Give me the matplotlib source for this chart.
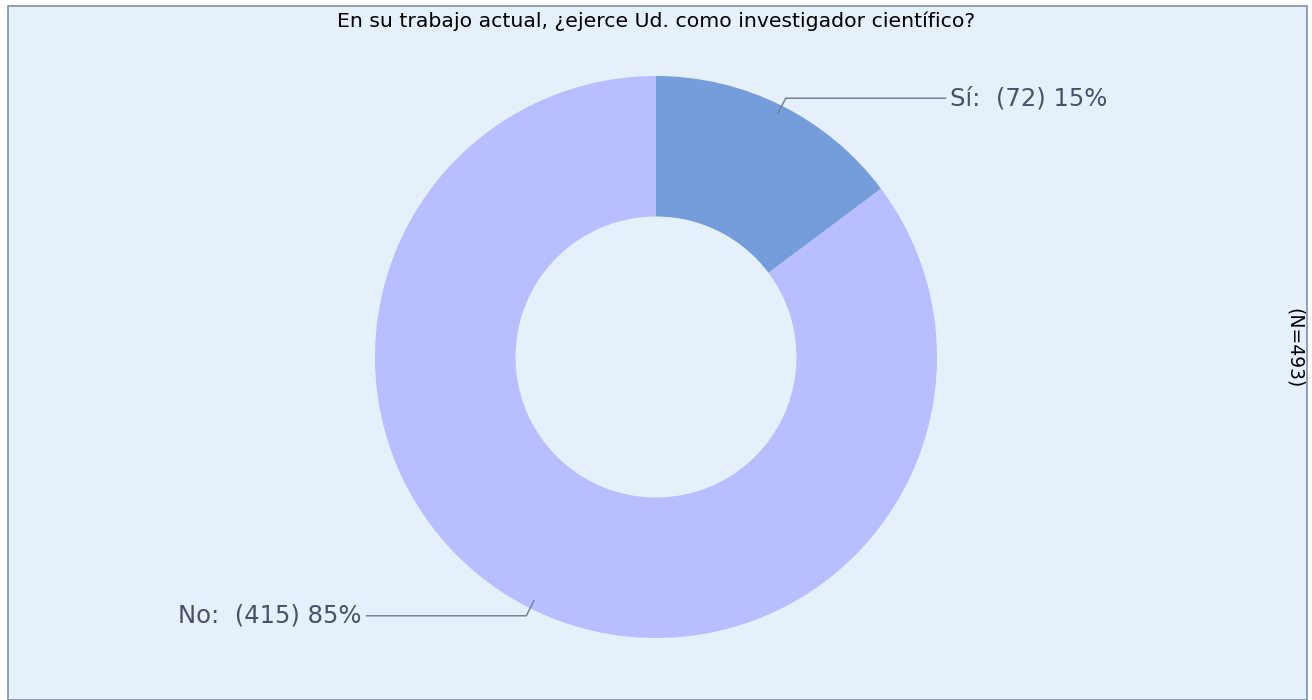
import numpy as np
import matplotlib
matplotlib.use("Agg")
import matplotlib.pyplot as plt
from matplotlib.patches import Rectangle

title = "En su trabajo actual, ¿ejerce Ud. como investigador científico?"
categories = ["Sí", "No"]
counts = [72, 415]
percents = [15, 85]
colors = ["#759DDB", "#B8BEFF"]
n_label = "(N=493)"

W, H = 1312, 700
fig = plt.figure(figsize=(W / 100, H / 100), dpi=100)
fig.patch.set_facecolor("white")

# panel background with border
fig.patches.append(Rectangle((8 / W, 0), (1307 - 8) / W, (H - 6) / H,
                             transform=fig.transFigure, facecolor="#E6F0FA",
                             edgecolor="#7F8EA4", linewidth=1.2, zorder=-5))

cx, cy, R = 656, 357, 281
ax = fig.add_axes([(cx - R) / W, (H - cy - R) / H, 2 * R / W, 2 * R / H])
ax.set_zorder(2)
ax.axis("off")

wedges, _ = ax.pie(counts, colors=colors, startangle=90, counterclock=False,
                   radius=1, wedgeprops=dict(width=0.5, linewidth=0))
ax.set_xlim(-1, 1)
ax.set_ylim(-1, 1)
ax.set_aspect("equal")

line_col = "#7A8396"
txt_col = "#4A5068"
for w, cat, c, p in zip(wedges, categories, counts, percents):
    ang = np.deg2rad((w.theta1 + w.theta2) / 2)
    x0, y0 = 0.97 * np.cos(ang), 0.97 * np.sin(ang)
    x1, y1 = 1.03 * np.cos(ang), 1.03 * np.sin(ang)
    side = 1 if np.cos(ang) > 0 else -1
    x2 = 1.03 * side
    ax.plot([x0, x1, x2], [y0, y1, y1], color=line_col, lw=1.1, clip_on=False)
    ax.text(x2 + side * 0.018, y1, f"{cat}:  ({c}) {p}%", ha="left" if side > 0 else "right",
            va="center", fontsize=17.5, color=txt_col, family="DejaVu Sans")

fig.text(656 / W, 1 - 21 / H, title, ha="center", va="center", fontsize=14.7, color="black")
fig.text(1294 / W, 1 - 348 / H, n_label, ha="center", va="center", rotation=270,
         fontsize=13.5, color="black")

fig.savefig("out.png", dpi=100)
